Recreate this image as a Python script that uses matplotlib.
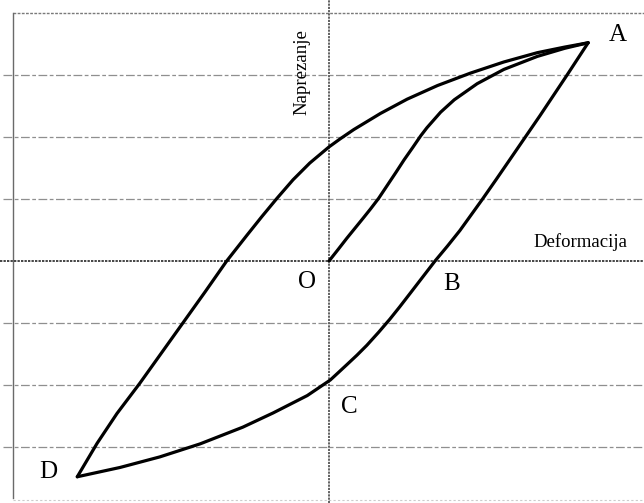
import matplotlib
matplotlib.use("Agg")
import matplotlib.pyplot as plt

# Virgin loading curve O -> A
virgin_x = [0.00, 0.15, 0.29, 0.42, 0.55, 0.67, 0.80, 0.94, 1.08, 1.21, 1.35, 1.48, 1.58, 1.80, 2.02, 2.39, 2.82, 3.36, 3.80, 4.18]
virgin_y = [0.00, 0.19, 0.37, 0.53, 0.69, 0.84, 1.01, 1.22, 1.43, 1.63, 1.83, 2.02, 2.15, 2.40, 2.60, 2.86, 3.09, 3.30, 3.43, 3.52]

# Unloading / reverse loading A -> B -> C -> D
lower_x = [4.18, 3.84, 3.62, 3.40, 3.16, 2.92, 2.70, 2.47, 2.29, 2.11, 1.91, 1.71, 1.51, 1.31, 1.14, 0.98,
           0.80, 0.61, 0.45, 0.29, 0.15, 0.02, -0.35, -0.90, -1.39, -2.08, -2.73, -3.37, -4.06]
lower_y = [3.52, 3.00, 2.67, 2.34, 1.99, 1.64, 1.32, 0.99, 0.74, 0.49, 0.24, 0.00, -0.26, -0.52, -0.74, -0.94,
           -1.15, -1.36, -1.52, -1.67, -1.80, -1.92, -2.17, -2.45, -2.68, -2.95, -3.16, -3.33, -3.48]

# Reloading D -> A
upper_x = [-4.06, -3.74, -3.42, -3.05, -2.70, -2.35, -2.00, -1.65, -1.32, -1.08, -0.84, -0.58, -0.31, 0.00,
           0.18, 0.40, 0.83, 1.26, 1.75, 2.28, 2.82, 3.36, 3.80, 4.18]
upper_y = [-3.48, -2.94, -2.46, -1.97, -1.48, -0.99, -0.50, 0.00, 0.42, 0.72, 1.01, 1.31, 1.58, 1.84,
           1.97, 2.12, 2.38, 2.61, 2.83, 3.03, 3.21, 3.36, 3.45, 3.52]

grid_levels = [-3, -2, -1, 1, 2, 3]

point_names = ["A", "O", "B", "C", "D"]
point_x = [4.66, -0.35, 1.98, 0.32, -4.52]
point_y = [3.65, -0.34, -0.37, -2.35, -3.40]

x_label = "Deformacija"
y_label = "Naprezanje"

fig = plt.figure(figsize=(6.44, 5.03), dpi=100)
ax = fig.add_axes([0, 0, 1, 1])
ax.set_xlim(-329 / 62, 315 / 62)
ax.set_ylim(-242 / 62, 261 / 62)
ax.axis("off")

serif = ["Liberation Serif", "DejaVu Serif"]

# background grid (scanned paper look)
for g in grid_levels:
    ax.axhline(g, xmin=0.005, xmax=1.0, color="#8f8f8f", lw=0.9,
               linestyle=(0, (7, 2, 3, 2)), zorder=1)
# top border, faint bottom border and left border
ax.axhline(4.0, xmin=0.02, xmax=1.0, color="#7a7a7a", lw=1.0, linestyle=(0, (2, 1)), zorder=1)
ax.axhline(-3.86, xmin=0.02, xmax=1.0, color="#cccccc", lw=0.8, linestyle=(0, (2, 2)), zorder=1)
ax.axvline(-5.1, ymin=0.01, ymax=(4.0 + 242 / 62) / (503 / 62), color="#6a6a6a", lw=1.0, zorder=1)

# main axes through the origin
ax.axhline(0, color="#444444", lw=1.4, linestyle=(0, (1.2, 0.6)), zorder=2)
ax.axvline(0, color="#555555", lw=1.3, linestyle=(0, (1.2, 0.6)), zorder=2)

# curves
kw = dict(color="black", lw=2.3, solid_joinstyle="round", solid_capstyle="round", zorder=3)
ax.plot(virgin_x, virgin_y, **kw)
ax.plot(lower_x, lower_y, **kw)
ax.plot(upper_x, upper_y, **kw)

for name, px, py in zip(point_names, point_x, point_y):
    ax.text(px, py, name, family=serif, fontsize=18, ha="center", va="center", zorder=4)

ax.text(4.05, 0.30, x_label, family=serif, fontsize=13.5, ha="center", va="center", zorder=4)
ax.text(-0.43, 3.05, y_label, family=serif, fontsize=13.5, ha="center", va="center",
        rotation=90, zorder=4)

fig.savefig("out.png", dpi=100, facecolor="white")
